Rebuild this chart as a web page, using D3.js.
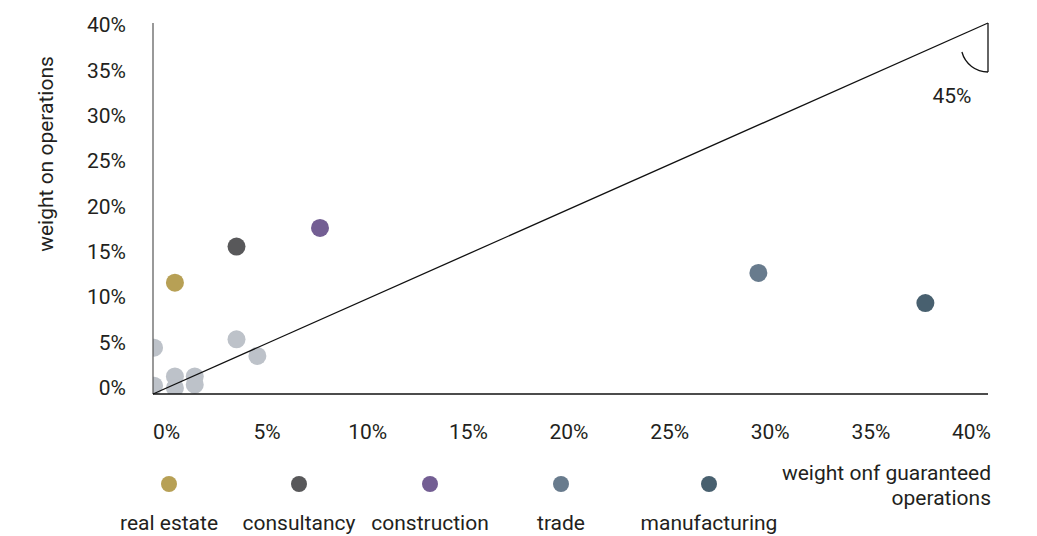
<!DOCTYPE html>
<html>
<head>
<meta charset="utf-8">
<script src="https://cdn.jsdelivr.net/npm/d3@7"></script>
<style>
  html, body { margin: 0; padding: 0; background: #fff; }
  svg text { font-family: Roboto, "Noto Sans", sans-serif; fill: #231f20; }
</style>
</head>
<body>
<svg id="chart" width="1037" height="536"></svg>
<script>
// Highlighted sectors: share of guaranteed operations (x) vs share of operations (y)
const sectors = ["real estate", "consultancy", "construction", "trade", "manufacturing"];
const sectorX = [0.0105, 0.040, 0.080, 0.290, 0.370];
const sectorY = [0.120, 0.159, 0.179, 0.1305, 0.098];
const sectorColors = ["#b7a055", "#58585a", "#735e93", "#687b8d", "#48606f"];

// Remaining sectors, drawn in grey
const otherX = [0.0005, 0.0005, 0.0105, 0.0105, 0.020, 0.020, 0.040, 0.050];
const otherY = [0.050, 0.009, 0.019, 0.0065, 0.019, 0.010, 0.059, 0.041];
const otherColor = "#bdc2c9";

const tickValues = [0, 0.05, 0.10, 0.15, 0.20, 0.25, 0.30, 0.35, 0.40];
const tickLabels = ["0%", "5%", "10%", "15%", "20%", "25%", "30%", "35%", "40%"];

const xTitle = ["weight onf guaranteed", "operations"];
const yTitle = "weight on operations";
const angleLabel = "45%";

const FS = 21;
const svg = d3.select("#chart");

const x = d3.scaleLinear().domain([0, 0.4]).range([153, 988]);
const y = d3.scaleLinear().domain([0, 0.4]).range([394, 23]);
// tick labels sit slightly inside the plot extent
const xLab = d3.scaleLinear().domain([0, 0.4]).range([166, 971]);
const yLab = d3.scaleLinear().domain([0, 0.4]).range([388, 25]);

svg.append("defs").append("clipPath").attr("id", "plot")
  .append("rect")
  .attr("x", x(0)).attr("y", y(0.4))
  .attr("width", x(0.4) - x(0)).attr("height", y(0) - y(0.4));

const pts = svg.append("g").attr("clip-path", "url(#plot)");
pts.selectAll("circle.other")
  .data(otherX.map((v, i) => [v, otherY[i]]))
  .join("circle")
  .attr("class", "other")
  .attr("cx", d => x(d[0])).attr("cy", d => y(d[1]))
  .attr("r", 9).attr("fill", otherColor);

pts.selectAll("circle.sector")
  .data(sectors.map((s, i) => ({ s, vx: sectorX[i], vy: sectorY[i], c: sectorColors[i] })))
  .join("circle")
  .attr("class", "sector")
  .attr("cx", d => x(d.vx)).attr("cy", d => y(d.vy))
  .attr("r", 9).attr("fill", d => d.c);

// Axis lines
svg.append("line")
  .attr("x1", x(0)).attr("x2", x(0)).attr("y1", y(0.4)).attr("y2", y(0))
  .attr("stroke", "#555").attr("stroke-width", 1.2);
svg.append("line")
  .attr("x1", x(0)).attr("x2", x(0.4)).attr("y1", y(0)).attr("y2", y(0))
  .attr("stroke", "#111").attr("stroke-width", 1.3);

// 45-degree reference line with angle marker
svg.append("line")
  .attr("x1", x(0)).attr("y1", y(0)).attr("x2", x(0.4)).attr("y2", y(0.4))
  .attr("stroke", "#111").attr("stroke-width", 1.3);
svg.append("line")
  .attr("x1", x(0.4)).attr("x2", x(0.4)).attr("y1", y(0.4)).attr("y2", y(0.4) + 49)
  .attr("stroke", "#111").attr("stroke-width", 1.3);
svg.append("path")
  .attr("transform", `translate(${x(0.4)},${y(0.4) + 22})`)
  .attr("d", d3.arc()({ innerRadius: 27, outerRadius: 27, startAngle: Math.PI, endAngle: 4.45 }))
  .attr("fill", "none").attr("stroke", "#111").attr("stroke-width", 1.3);
svg.append("text")
  .attr("x", 952).attr("y", 96).attr("text-anchor", "middle").attr("dominant-baseline", "central")
  .attr("font-size", FS).text(angleLabel);

// Tick labels
const xAxis = d3.axisBottom(xLab).tickValues(tickValues)
  .tickFormat((d, i) => tickLabels[i]).tickSize(0);
svg.append("g").attr("transform", "translate(0,421)").call(xAxis)
  .call(g => g.select(".domain").remove())
  .call(g => g.selectAll("text").attr("font-size", FS).attr("font-family", null).attr("fill", "#231f20"));

const yAxis = d3.axisLeft(yLab).tickValues(tickValues)
  .tickFormat((d, i) => tickLabels[i]).tickSize(0);
svg.append("g").attr("transform", "translate(126,0)").call(yAxis)
  .call(g => g.select(".domain").remove())
  .call(g => g.selectAll("text").attr("font-size", FS).attr("font-family", null).attr("fill", "#231f20").attr("x", 0));

// Axis titles
svg.append("text")
  .attr("transform", "translate(46,154) rotate(-90)")
  .attr("text-anchor", "middle").attr("dominant-baseline", "central")
  .attr("font-size", FS).text(yTitle);
svg.append("g").selectAll("text").data(xTitle).join("text")
  .attr("x", 991).attr("y", (d, i) => 473 + i * 25)
  .attr("text-anchor", "end").attr("dominant-baseline", "central")
  .attr("font-size", FS).text(d => d);

// Legend
const legendX = [169, 299, 430, 561, 709];
const legend = svg.append("g").selectAll("g")
  .data(sectors.map((s, i) => ({ s, c: sectorColors[i], lx: legendX[i] })))
  .join("g").attr("transform", d => `translate(${d.lx},0)`);
legend.append("circle").attr("cy", 484).attr("r", 8).attr("fill", d => d.c);
legend.append("text").attr("y", 523).attr("text-anchor", "middle").attr("dominant-baseline", "central")
  .attr("font-size", FS).text(d => d.s);
</script>
</body>
</html>
